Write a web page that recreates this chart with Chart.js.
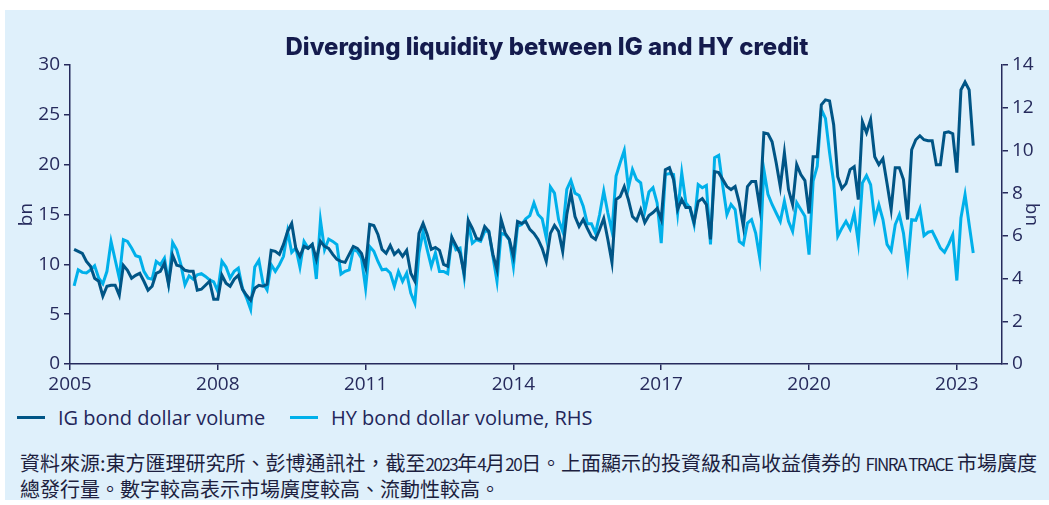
<!DOCTYPE html>
<html>
<head>
<meta charset="utf-8">
<title>Diverging liquidity between IG and HY credit</title>
<script src="https://cdn.jsdelivr.net/npm/chart.js@4.4.1/dist/chart.umd.min.js"></script>
<style>
  html, body { margin: 0; padding: 0; background: #fff; }
  body { width: 1049px; height: 505px; position: relative; overflow: hidden; }
  .panel { position: absolute; left: 5px; top: 10px; width: 1044px; height: 490px; background: #dff0fb; }
  #chart { position: absolute; left: 0; top: 0; }
  .title { position: absolute; left: 0; width: 1084px; top: 22px; line-height: 30px; text-align: center;
    font: 800 24px "Inter", sans-serif; color: #141b4d; white-space: nowrap; }
  .legend-item { position: absolute; top: 395px; height: 24px; display: flex; align-items: center; white-space: nowrap;
    font: 20px "Open Sans", sans-serif; color: #23265a; }
  .swatch { width: 28px; height: 3px; margin-right: 13px; }
  .note { position: absolute; left: 15px; top: 440px; white-space: nowrap; color: #1d1f3f;
    font: 20px/25px "Noto Sans CJK TC", sans-serif; }
  .note .lat { font-size: 17px; letter-spacing: -1.5px; }
</style>
</head>
<body>
<div class="panel">
  <canvas id="chart" width="1044" height="390"></canvas>
  <div class="title">Diverging liquidity between IG and HY credit</div>
  <div id="legend"></div>
  <div class="note">資料來源:東方匯理研究所、彭博通訊社，截至<span class="lat">2023</span>年<span class="lat">4</span>月<span class="lat">20</span>日。上面顯示的投資級和高收益債券的 <span class="lat">FINRA TRACE</span> 市場廣度<br>總發行量。數字較高表示市場廣度較高、流動性較高。</div>
</div>
<script>
// monthly data, Jan 2005 - Apr 2023 (bn)
const startYear = 2005;
const xTickYears = [2005, 2008, 2011, 2014, 2017, 2020, 2023];

const igVolume = [
  11.5, 11.3, 11.1, 10.3, 9.8, 8.6, 8.3, 6.8, 7.8, 7.9, 7.9, 6.9,
  9.9, 9.4, 8.6, 8.9, 9.1, 8.3, 7.4, 7.8, 9.1, 9.3, 10.1, 8.0,
  10.9, 9.9, 9.8, 9.4, 9.3, 9.3, 7.4, 7.5, 7.9, 8.3, 6.5, 6.5,
  8.9, 8.1, 7.8, 8.5, 8.9, 7.5, 6.9, 6.4, 7.6, 7.9, 7.8, 8.0,
  11.4, 11.3, 11.0, 12.0, 13.3, 14.1, 11.6, 10.8, 11.8, 11.6, 12.0, 10.5,
  12.3, 11.8, 11.6, 11.0, 10.5, 10.3, 10.2, 11.0, 11.8, 11.6, 11.1, 9.7,
  14.0, 13.9, 13.0, 11.5, 11.1, 11.9, 11.0, 11.4, 10.8, 11.4, 9.1, 8.3,
  13.1, 14.1, 13.0, 11.5, 11.7, 11.4, 10.0, 9.8, 12.7, 11.9, 11.1, 9.1,
  14.4, 13.6, 12.6, 12.5, 13.8, 13.3, 11.0, 9.5, 14.5, 13.1, 12.5, 10.8,
  14.3, 14.1, 14.3, 13.5, 13.1, 12.5, 11.6, 10.3, 13.1, 13.9, 13.3, 11.3,
  15.0, 17.2, 14.8, 13.8, 14.5, 13.6, 12.8, 12.5, 13.5, 14.6, 12.5, 10.2,
  16.5, 16.8, 17.8, 16.5, 14.8, 14.4, 15.5, 14.2, 14.9, 15.2, 15.6, 14.5,
  19.5, 19.7, 18.5, 15.5, 16.5, 15.7, 15.7, 14.2, 16.3, 16.6, 16.0, 12.5,
  19.3, 19.2, 18.5, 17.8, 17.5, 17.8, 16.2, 13.8, 17.8, 18.3, 18.3, 15.7,
  23.2, 23.1, 22.3, 20.2, 17.8, 21.2, 17.5, 16.0, 20.0, 19.0, 18.4, 15.1,
  20.8, 20.8, 26.0, 26.5, 26.4, 24.0, 18.8, 17.6, 18.1, 19.5, 19.8, 16.5,
  24.3, 23.2, 24.5, 20.8, 20.0, 20.6, 18.1, 15.5, 19.7, 19.7, 18.5, 14.5,
  21.5, 22.5, 22.9, 22.5, 22.4, 22.4, 20.0, 20.0, 23.2, 23.3, 23.1, 19.2,
  27.5, 28.3, 27.5, 21.9
];

const hyVolume = [
  3.66, 4.41, 4.29, 4.26, 4.41, 4.60, 4.02, 3.76, 4.34, 5.74, 4.88, 4.02,
  5.82, 5.74, 5.43, 5.07, 5.01, 4.34, 4.02, 3.97, 4.80, 4.65, 4.96, 3.79,
  5.69, 5.35, 4.65, 3.71, 4.13, 3.97, 4.18, 4.23, 4.10, 3.94, 3.85, 3.40,
  4.81, 4.54, 4.02, 4.34, 4.49, 3.55, 3.10, 2.56, 4.54, 4.85, 3.79, 3.47,
  4.65, 4.34, 4.65, 5.04, 6.21, 5.23, 5.43, 4.54, 5.74, 5.43, 5.59, 3.98,
  6.73, 5.35, 5.85, 5.74, 5.59, 4.21, 4.34, 4.41, 5.35, 5.27, 4.95, 3.55,
  5.50, 5.28, 4.80, 4.41, 4.44, 4.26, 3.64, 4.33, 3.87, 4.26, 3.32, 2.85,
  5.20, 6.21, 5.35, 4.57, 5.20, 4.33, 4.33, 4.23, 5.90, 5.35, 5.43, 4.10,
  6.60, 5.66, 5.82, 5.74, 6.21, 6.21, 5.04, 3.87, 6.13, 6.05, 5.82, 4.57,
  6.45, 6.53, 6.80, 6.95, 7.54, 7.00, 6.80, 5.90, 8.29, 8.00, 6.76, 6.21,
  8.17, 8.60, 8.00, 7.89, 7.39, 6.57, 6.57, 6.13, 7.00, 8.09, 7.07, 6.21,
  8.80, 9.42, 10.00, 8.25, 9.11, 8.64, 8.48, 7.15, 8.05, 8.25, 7.54, 5.66,
  8.87, 8.92, 8.87, 7.07, 8.95, 7.55, 7.31, 6.53, 8.40, 8.25, 8.36, 5.60,
  9.66, 9.77, 8.33, 7.00, 7.47, 7.23, 5.74, 5.59, 6.60, 6.76, 6.13, 4.96,
  9.10, 7.94, 7.47, 7.07, 6.68, 7.62, 6.68, 6.21, 7.55, 7.23, 6.92, 5.12,
  8.56, 9.26, 11.92, 11.50, 9.90, 8.50, 5.98, 6.36, 6.68, 6.32, 7.07, 5.69,
  8.48, 8.82, 8.40, 6.76, 7.46, 6.76, 5.60, 5.30, 6.53, 6.99, 6.13, 4.57,
  6.76, 6.73, 7.26, 6.01, 6.17, 6.22, 5.83, 5.43, 5.23, 5.60, 6.05, 3.91,
  6.84, 7.93, 6.53, 5.20
];

const seriesNames = ["IG bond dollar volume", "HY bond dollar volume, RHS"];
const seriesColors = ["#005586", "#00b0ea"];

const axisColor = "#262a5c";
const tickFont = { family: "Open Sans", size: 19 };

// points sit at month end
const monthX = igVolume.map((v, i) => startYear + (i + 1) / 12);

const toPoints = (arr) => arr.map((v, i) => ({ x: monthX[i], y: v }));

const axisGrid = { drawOnChartArea: false, drawTicks: true, tickLength: 6, color: axisColor, lineWidth: 1.5 };
const axisBorder = { display: true, color: axisColor, width: 1.5 };

new Chart(document.getElementById("chart"), {
  type: "line",
  data: {
    datasets: [
      { label: seriesNames[0], data: toPoints(igVolume), yAxisID: "y",
        borderColor: seriesColors[0], backgroundColor: seriesColors[0] },
      { label: seriesNames[1], data: toPoints(hyVolume), yAxisID: "y1",
        borderColor: seriesColors[1], backgroundColor: seriesColors[1] }
    ]
  },
  options: {
    responsive: false,
    animation: false,
    layout: { padding: { top: 55 } },
    elements: {
      point: { radius: 0 },
      line: { borderWidth: 3, tension: 0 }
    },
    plugins: {
      legend: { display: false },
      tooltip: { enabled: false },
      title: { display: false }
    },
    scales: {
      x: {
        type: "linear",
        min: 2005,
        max: 2023 + 11 / 12,
        afterBuildTicks: (axis) => { axis.ticks = xTickYears.map((v) => ({ value: v })); },
        afterFit: (axis) => { axis.height = 36; },
        ticks: { color: axisColor, font: tickFont, padding: 3, maxRotation: 0,
          callback: (v) => String(Math.round(v)) },
        grid: axisGrid,
        border: axisBorder
      },
      y: {
        position: "left",
        min: 0, max: 30,
        afterFit: (axis) => { axis.width = 65; },
        ticks: { stepSize: 5, color: axisColor, font: tickFont, padding: 4 },
        title: { display: true, text: "bn", color: axisColor, font: tickFont, padding: { top: 10, bottom: 0 } },
        grid: axisGrid,
        border: axisBorder
      },
      y1: {
        position: "right",
        min: 0, max: 14,
        afterFit: (axis) => { axis.width = 47; },
        ticks: { stepSize: 2, color: axisColor, font: tickFont, padding: 4 },
        title: { display: true, text: "bn", color: axisColor, font: tickFont, padding: { top: 6, bottom: 0 } },
        grid: axisGrid,
        border: axisBorder
      }
    }
  }
});

// legend
const legendLeft = [12, 285];
const legend = document.getElementById("legend");
seriesNames.forEach((name, i) => {
  const item = document.createElement("div");
  item.className = "legend-item";
  item.style.left = legendLeft[i] + "px";
  item.innerHTML = '<span class="swatch" style="background:' + seriesColors[i] + '"></span>' + name;
  legend.appendChild(item);
});
</script>
</body>
</html>
